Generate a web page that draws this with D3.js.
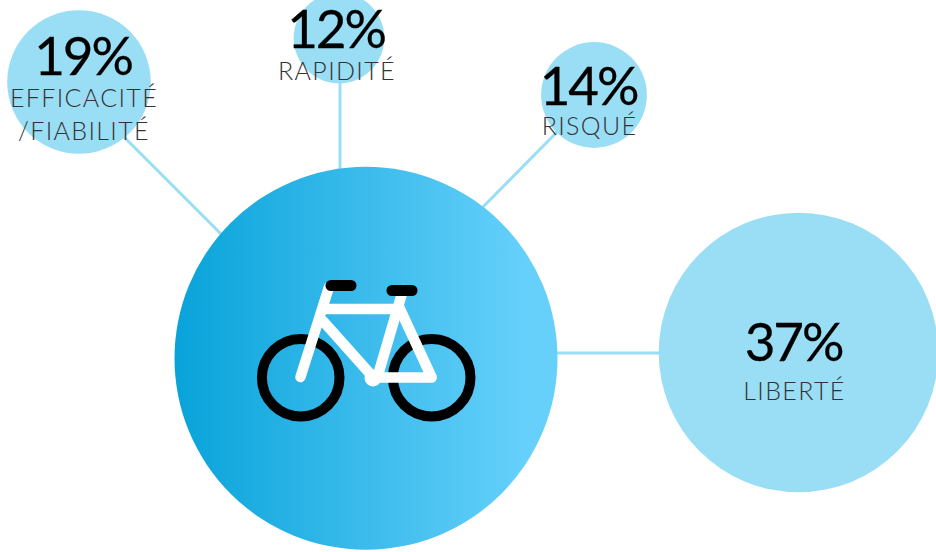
<!DOCTYPE html>
<html><head><meta charset="utf-8">
<script src="https://cdn.jsdelivr.net/npm/d3@7"></script>
<style>
html,body{margin:0;padding:0;background:#fff}
svg{display:block}
.pct{font-family:Lato,sans-serif;font-weight:400;font-size:53px;letter-spacing:-2.2px;fill:#000;stroke:#000;stroke-width:.3px;text-anchor:middle}
.lbl{font-family:Lato,sans-serif;font-weight:300;font-size:25px;letter-spacing:1.35px;fill:#333;text-anchor:middle}
</style></head><body>
<script>
// Share of answers for each word associated with cycling
const categories = ["EFFICACITÉ\n/FIABILITÉ", "RAPIDITÉ", "RISQUÉ", "LIBERTÉ"];
const percentages = [19, 12, 14, 37];

const W = 936, H = 552;
const hub = {x: 366, y: 358.3, r: 191.5};
const centresX = [79, 339, 594, 798.5];
const centresY = [82, 38, 95, 352.5];
const textX = [84, 337, 589.5, 794.5];
const pctBaseline = [75, 48, 105, 361];
const lblFirstLine = [107, 80, 135, 400];
const lineGap = 32.5;

// Where each connector meets the hub, and where it meets its bubble
const linkHubX = [224, 340, 480, 540];
const linkHubY = [237, 190, 210, 353];
const linkBubbleX = [120, 340, 560, 680];
const linkBubbleY = [133, 70, 129, 353];

const radius = d3.scaleLinear().domain([0, 37]).range([0, 139.8]);

const svg = d3.select("body").append("svg").attr("width", W).attr("height", H);

const grad = svg.append("defs").append("linearGradient").attr("id", "hubFill");
grad.append("stop").attr("offset", "0%").attr("stop-color", "#08a3da");
grad.append("stop").attr("offset", "92%").attr("stop-color", "#66d0fb");

const LIGHT = "#9adef5";

// Connectors between the hub and each bubble
svg.selectAll("line.link").data(percentages).join("line")
  .attr("class", "link")
  .attr("x1", (d, i) => linkHubX[i]).attr("y1", (d, i) => linkHubY[i])
  .attr("x2", (d, i) => linkBubbleX[i]).attr("y2", (d, i) => linkBubbleY[i])
  .attr("stroke", LIGHT).attr("stroke-width", 3);

svg.selectAll("circle.bubble").data(percentages).join("circle")
  .attr("class", "bubble")
  .attr("cx", (d, i) => centresX[i]).attr("cy", (d, i) => centresY[i])
  .attr("r", d => radius(d)).attr("fill", LIGHT);

svg.append("circle").attr("cx", hub.x).attr("cy", hub.y).attr("r", hub.r)
  .attr("fill", "url(#hubFill)");

// Bicycle pictogram
const bike = svg.append("g").attr("fill", "none").attr("stroke-linecap", "round");
const wheels = [[300.7, 377.7], [431.7, 377.7]];
bike.selectAll("circle").data(wheels).join("circle")
  .attr("cx", d => d[0]).attr("cy", d => d[1]).attr("r", 38.8)
  .attr("stroke", "#000").attr("stroke-width", 10);
const frame = [
  [[300.5, 377], [329, 287]],
  [[325, 309], [400, 309]],
  [[323, 321], [373, 377]],
  [[403, 290], [378, 375]],
  [[400, 309], [431.5, 377]],
  [[373, 377.5], [431.5, 377.5]]
];
bike.selectAll("path.frame").data(frame).join("path")
  .attr("class", "frame")
  .attr("d", d3.line())
  .attr("stroke", "#fff").attr("stroke-width", 10.5);
bike.append("circle").attr("cx", 373).attr("cy", 378).attr("r", 8.5)
  .attr("fill", "#fff");
const grips = [[[331, 285.5], [351, 285.5]], [[392, 290.5], [412, 290.5]]];
bike.selectAll("path.grip").data(grips).join("path")
  .attr("class", "grip")
  .attr("d", d3.line())
  .attr("stroke", "#000").attr("stroke-width", 11);

// Percentages and their captions
svg.selectAll("text.pct").data(percentages).join("text")
  .attr("class", "pct")
  .attr("x", (d, i) => textX[i] - 1)
  .attr("y", (d, i) => pctBaseline[i])
  .text(d => d + "%");

categories.forEach((c, i) => {
  c.split("\n").forEach((line, k) => {
    svg.append("text").attr("class", "lbl")
      .attr("x", textX[i])
      .attr("y", lblFirstLine[i] + k * lineGap)
      .text(line);
  });
});
</script>
</body></html>
